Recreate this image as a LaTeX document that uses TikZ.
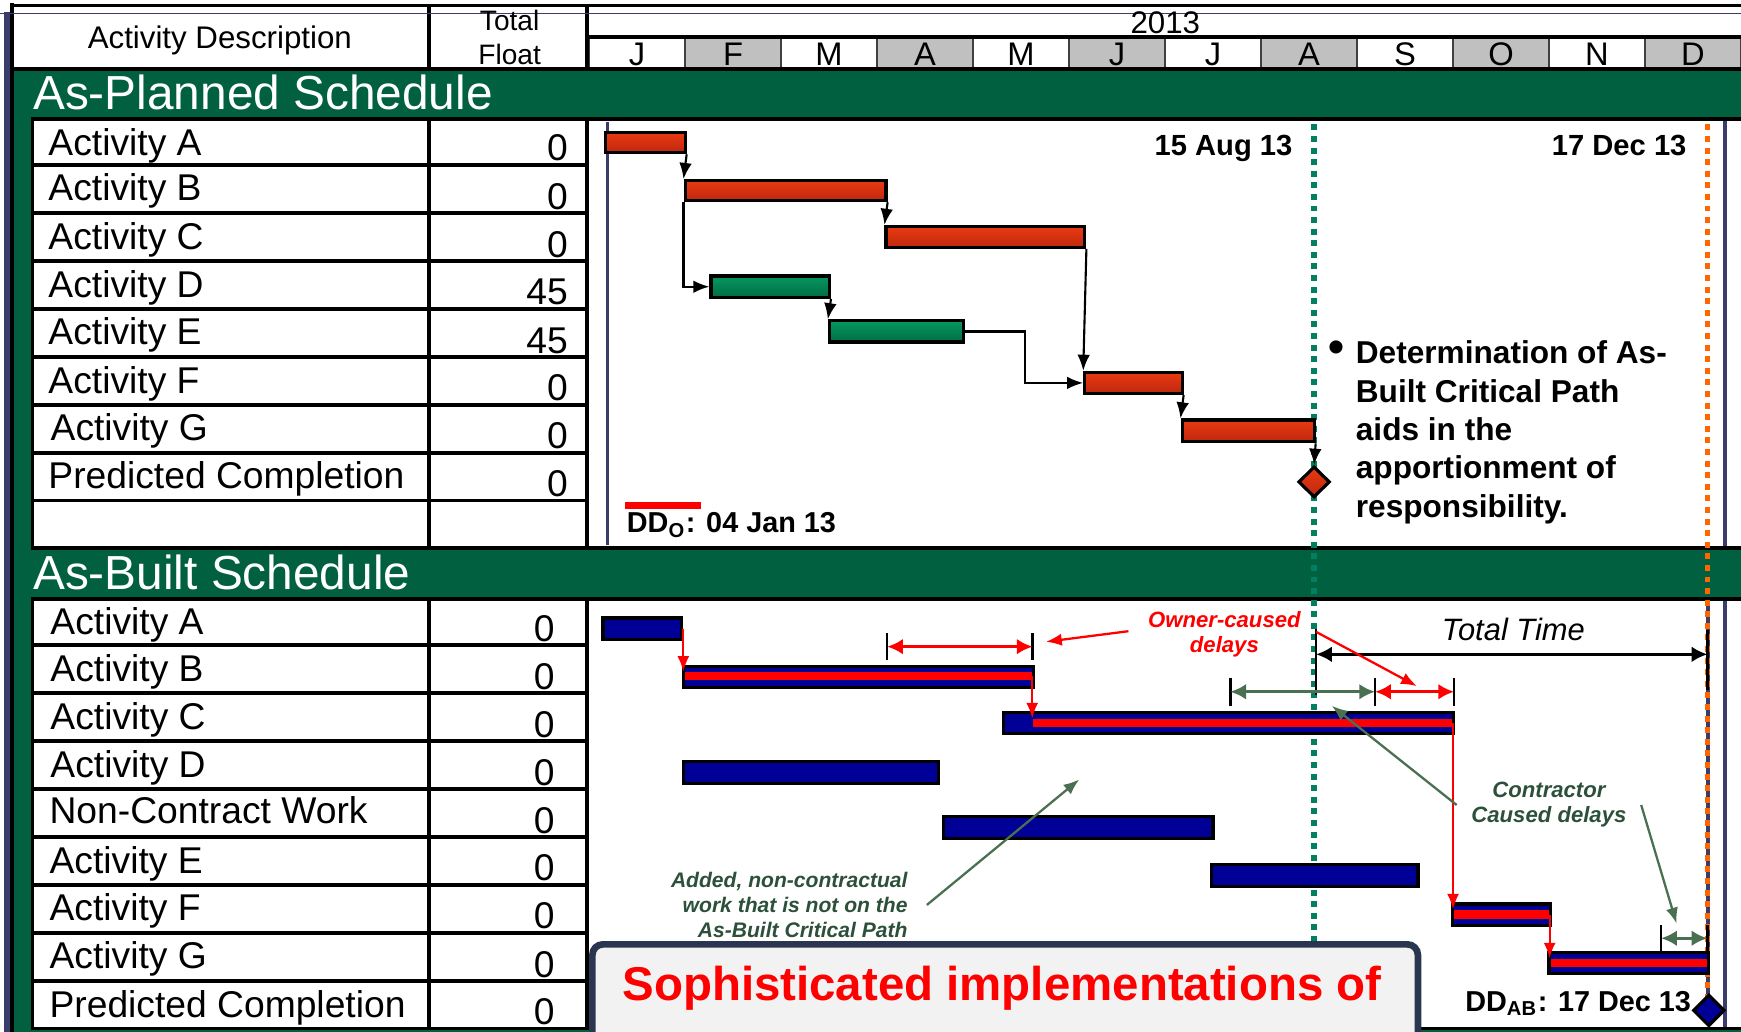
\documentclass[tikz,border=0pt]{standalone}
\usepackage{fontspec}
\setmainfont{Liberation Sans}
\usetikzlibrary{arrows.meta,fit,shapes.geometric}

\definecolor{bandgreen}{RGB}{0,96,64}
\definecolor{edgenavy}{RGB}{58,60,105}
\definecolor{monthgray}{RGB}{192,192,192}
\definecolor{planred}{RGB}{234,58,18}
\definecolor{planredd}{RGB}{190,40,14}
\definecolor{plangreen}{RGB}{6,150,96}
\definecolor{plangreend}{RGB}{0,110,68}
\definecolor{builtnavy}{RGB}{0,0,150}
\definecolor{dategreen}{RGB}{0,128,96}
\definecolor{dateorange}{RGB}{255,102,0}
\definecolor{contrgreen}{RGB}{74,112,82}
\definecolor{notegreen}{RGB}{45,80,58}
\definecolor{boxgray}{RGB}{242,242,242}
\definecolor{boxedge}{RGB}{42,54,80}

\begin{document}
\begin{tikzpicture}[x=0.011103cm,y=-0.011103cm]
	\tikzstyle{cell}=[draw=black,line width=1.1pt,fill=white]
	\tikzstyle{hdrline}=[draw=black,line width=1.1pt]
	\tikzstyle{monthcell}=[draw=black!75,line width=0.5pt]
	\tikzstyle{hdrtext}=[anchor=base,inner sep=0pt,font=\fontsize{8.9}{10}\selectfont]
	\tikzstyle{mlabel}=[anchor=base,inner sep=0pt,font=\fontsize{9.3}{10}\selectfont]
	\tikzstyle{bandtitle}=[anchor=base west,inner sep=0pt,white,font=\fontsize{13.6}{15}\selectfont]
	\tikzstyle{rowtext}=[anchor=base west,inner sep=0pt,font=\fontsize{10.6}{12}\selectfont]
	\tikzstyle{rownum}=[anchor=base east,inner sep=0pt,font=\fontsize{10.6}{12}\selectfont]
	\tikzstyle{pbar}=[draw,line width=0.9pt,inner sep=0pt,top color=planred,bottom color=planredd]
	\tikzstyle{gbar}=[draw,line width=0.9pt,inner sep=0pt,top color=plangreen,bottom color=plangreend]
	\tikzstyle{bbar}=[draw,line width=0.9pt,inner sep=0pt,fill=builtnavy]
	\tikzstyle{stripe}=[fill=red,inner sep=0pt]
	\tikzstyle{link}=[-{Latex[length=4.6pt,width=3.6pt]},line width=0.6pt]
	\tikzstyle{critlink}=[red,-{Latex[length=4.4pt,width=3.4pt]},line width=0.65pt]
	\tikzstyle{datemark}=[line width=1.5pt,dash pattern=on 1.7pt off 1.6pt]
	\tikzstyle{datetext}=[anchor=base east,inner sep=0pt,font=\fontsize{8.3}{10}\selectfont\bfseries]
	\tikzstyle{endtick}=[line width=0.7pt]
	\tikzstyle{delayspan}=[line width=0.95pt,{Latex[length=4.5pt,width=4.5pt]}-{Latex[length=4.5pt,width=4.5pt]}]
	\tikzstyle{pointer}=[line width=0.65pt,-{Latex[length=4.5pt,width=3.5pt]}]
	\tikzstyle{remark}=[inner sep=0pt,font=\fontsize{6.3}{7.1}\selectfont\bfseries\itshape]

	\useasboundingbox (0,0) rectangle (1568,929);
	\clip (0,0) rectangle (1568,929);

	% frame and green background
	\fill[edgenavy] (3.4,10.5) rectangle (8.6,929);
	\fill[black] (8.6,3) rectangle (13,929);
	\fill[bandgreen] (13,62) rectangle (1568,929);

	% header
	\fill[white] (11,5) rectangle (1568,62);
	\draw[monthcell,fill=white] (530.5,33.5) rectangle (617,62);
	\draw[monthcell,fill=monthgray] (617,33.5) rectangle (703.4,62);
	\draw[monthcell,fill=white] (703.4,33.5) rectangle (789.9,62);
	\draw[monthcell,fill=monthgray] (789.9,33.5) rectangle (876.3,62);
	\draw[monthcell,fill=white] (876.3,33.5) rectangle (962.8,62);
	\draw[monthcell,fill=monthgray] (962.8,33.5) rectangle (1049.2,62);
	\draw[monthcell,fill=white] (1049.2,33.5) rectangle (1135.7,62);
	\draw[monthcell,fill=monthgray] (1135.7,33.5) rectangle (1222.1,62);
	\draw[monthcell,fill=white] (1222.1,33.5) rectangle (1308.6,62);
	\draw[monthcell,fill=monthgray] (1308.6,33.5) rectangle (1395,62);
	\draw[monthcell,fill=white] (1395,33.5) rectangle (1481.5,62);
	\draw[monthcell,fill=monthgray] (1481.5,33.5) rectangle (1567.9,62);
	\draw[hdrline] (11,5) rectangle (1575,62);
	\draw[hdrline] (386,5) -- (386,62);
	\draw[hdrline] (529,5) -- (529,62);
	\draw[hdrline] (529,33.5) -- (1575,33.5);
	\draw[edgenavy,line width=0.3pt] (0,12) -- (1568,12);

	\node[hdrtext] (hdesc) at (198,43.5) {Activity Description};
	\node[hdrtext,font=\fontsize{8}{10}\selectfont] (htotal) at (459,27.5) {Total};
	\node[hdrtext,font=\fontsize{8}{10}\selectfont] (hfloat) at (459,58.5) {Float};
	\node[hdrtext] (hyear) at (1049.5,30) {2013};
	\node[mlabel] (m1) at (573.7,59) {J};
	\node[mlabel] (m2) at (660.2,59) {F};
	\node[mlabel] (m3) at (746.6,59) {M};
	\node[mlabel] (m4) at (833.1,59) {A};
	\node[mlabel] (m5) at (919.5,59) {M};
	\node[mlabel] (m6) at (1006,59) {J};
	\node[mlabel] (m7) at (1092.4,59) {J};
	\node[mlabel] (m8) at (1178.9,59) {A};
	\node[mlabel] (m9) at (1265.3,59) {S};
	\node[mlabel] (m10) at (1351.8,59) {O};
	\node[mlabel] (m11) at (1438.2,59) {N};
	\node[mlabel] (m12) at (1524.7,59) {D};

	% band titles
	\node[bandtitle] (tplan) at (29.3,99) {As-Planned Schedule};
	\node[bandtitle] (tbuilt) at (29.3,531) {As-Built Schedule};

	% as-planned table
	\draw[cell] (29.3,107.5) rectangle (386,148.3) (386,107.5) rectangle (529,148.3);
	\node[rowtext] (pa1) at (43,140) {Activity A}; \node[rownum] (pf1) at (512,144.8) {0};
	\draw[cell] (29.3,148.3) rectangle (386,191.8) (386,148.3) rectangle (529,191.8);
	\node[rowtext] (pa2) at (43,180.8) {Activity B}; \node[rownum] (pf2) at (512,188.3) {0};
	\draw[cell] (29.3,191.8) rectangle (386,235.4) (386,191.8) rectangle (529,235.4);
	\node[rowtext] (pa3) at (43,224.3) {Activity C}; \node[rownum] (pf3) at (512,231.9) {0};
	\draw[cell] (29.3,235.4) rectangle (386,278.1) (386,235.4) rectangle (529,278.1);
	\node[rowtext] (pa4) at (43,267.9) {Activity D}; \node[rownum] (pf4) at (512,274.6) {45};
	\draw[cell] (29.3,278.1) rectangle (386,321.5) (386,278.1) rectangle (529,321.5);
	\node[rowtext] (pa5) at (43,310.6) {Activity E}; \node[rownum] (pf5) at (512,318) {45};
	\draw[cell] (29.3,321.5) rectangle (386,364.5) (386,321.5) rectangle (529,364.5);
	\node[rowtext] (pa6) at (43,354) {Activity F}; \node[rownum] (pf6) at (512,361) {0};
	\draw[cell] (29.3,364.5) rectangle (386,407.8) (386,364.5) rectangle (529,407.8);
	\node[rowtext] (pa7) at (45,397) {Activity G}; \node[rownum] (pf7) at (512,404.3) {0};
	\draw[cell] (29.3,407.8) rectangle (386,450.8) (386,407.8) rectangle (529,450.8);
	\node[rowtext] (pa8) at (43,440.3) {Predicted Completion}; \node[rownum] (pf8) at (512,447.3) {0};
	\draw[cell] (29.3,450.8) rectangle (386,493.6) (386,450.8) rectangle (529,493.6);

	% as-built table
	\draw[cell] (29.3,539.2) rectangle (386,581) (386,539.2) rectangle (529,581);
	\node[rowtext] (ba1) at (44.8,571.7) {Activity A}; \node[rownum] (bf1) at (500,577.5) {0};
	\draw[cell] (29.3,581) rectangle (386,624.2) (386,581) rectangle (529,624.2);
	\node[rowtext] (ba2) at (44.8,613.5) {Activity B}; \node[rownum] (bf2) at (500,620.7) {0};
	\draw[cell] (29.3,624.2) rectangle (386,667.5) (386,624.2) rectangle (529,667.5);
	\node[rowtext] (ba3) at (44.8,656.7) {Activity C}; \node[rownum] (bf3) at (500,664) {0};
	\draw[cell] (29.3,667.5) rectangle (386,710.8) (386,667.5) rectangle (529,710.8);
	\node[rowtext] (ba4) at (44.8,700) {Activity D}; \node[rownum] (bf4) at (500,707.3) {0};
	\draw[cell] (29.3,710.8) rectangle (386,754) (386,710.8) rectangle (529,754);
	\node[rowtext] (ba5) at (44,741.5) {Non-Contract Work}; \node[rownum] (bf5) at (500,750.5) {0};
	\draw[cell] (29.3,754) rectangle (386,796.8) (386,754) rectangle (529,796.8);
	\node[rowtext] (ba6) at (44,786.5) {Activity E}; \node[rownum] (bf6) at (500,793.3) {0};
	\draw[cell] (29.3,796.8) rectangle (386,840.1) (386,796.8) rectangle (529,840.1);
	\node[rowtext] (ba7) at (44,829.3) {Activity F}; \node[rownum] (bf7) at (500,836.6) {0};
	\draw[cell] (29.3,840.1) rectangle (386,883.8) (386,840.1) rectangle (529,883.8);
	\node[rowtext] (ba8) at (44,872.6) {Activity G}; \node[rownum] (bf8) at (500,880.3) {0};
	\draw[cell] (29.3,883.8) rectangle (386,926.3) (386,883.8) rectangle (529,926.3);
	\node[rowtext] (ba9) at (44,916.3) {Predicted Completion}; \node[rownum] (bf9) at (500,922.6) {0};

	% chart panels
	\draw[cell] (529,107.5) rectangle (1580,493.6);
	\draw[cell] (529,539.2) rectangle (1580,926.3);
	\draw[edgenavy,line width=0.9pt] (547,110) -- (547,491);
	\draw[edgenavy,line width=1.3pt] (1553.6,109) -- (1553.6,492) (1553.6,541) -- (1553.6,925);
	\draw[edgenavy,line width=1.2pt] (1538,541) -- (1538,905);
	\draw[datemark,dategreen] (1183.5,112) -- (1183.5,852);
	\draw[datemark,dateorange] (1538,112) -- (1538,905);

	\node[datetext] (d15) at (1164.6,139.6) {15 Aug 13};
	\node[datetext] (d17) at (1519.5,139.6) {17 Dec 13};

	% as-planned bars
	\node[pbar,fit={(545,119.5) (617,137.5)}] (pA) {};
	\node[pbar,fit={(617,162.7) (798,180.7)}] (pB) {};
	\node[pbar,fit={(798,204) (977,222.8)}] (pC) {};
	\node[gbar,fit={(640.4,248.6) (747,267.8)}] (pD) {};
	\node[gbar,fit={(747,289) (868,308)}] (pE) {};
	\node[pbar,fit={(977,335.4) (1064.6,354.3)}] (pF) {};
	\node[pbar,fit={(1064.6,378.3) (1183.5,397.8)}] (pG) {};
	\node[draw,line width=0.9pt,diamond,inner sep=0pt,minimum width=9pt,minimum height=8.8pt,top color=planred,bottom color=planredd] (pEnd) at (1183.5,434) {};

	\draw[link] (pA.south east) -- (pB.north west);
	\draw[link] (pB.south west) |- (pD.west);
	\draw[link] (pB.south east) -- (pC.north west);
	\draw[link] (pD.south east) -- (pE.north west);
	\draw[link] (pE.east) -- ++(54,0) |- (pF.west);
	\draw[link] (pC.south east) -- (pF.north west);
	\draw[link] (pF.south east) -- (pG.north west);
	\draw[link] (pG.south east) -- (pEnd.north);

	\fill[red] (563,452.4) rectangle (631,458.7);
	\node[anchor=base west,inner sep=0pt,font=\fontsize{8.2}{10}\selectfont\bfseries] (ddo) at (564,480) {DD\textsubscript{O}: 04 Jan 13};

	\node[font=\fontsize{13}{13}\selectfont\bfseries,inner sep=0pt] (bul) at (1203.5,317) {\textbullet};
	\node[anchor=north west,inner sep=0pt,align=left,font=\fontsize{9}{10.9}\selectfont\bfseries] (note) at (1220.5,306.5) {Determination of As-\\Built Critical Path\\aids in the\\apportionment of\\responsibility.};

	% as-built bars
	\node[bbar,fit={(543,556.6) (614,575.6)}] (bA) {};
	\node[bbar,fit={(615.4,600.4) (930.8,619.4)}] (bB) {};
	\node[bbar,fit={(904,641.5) (1309,660.5)}] (bC) {};
	\node[bbar,fit={(615.4,686) (845.5,705.5)}] (bD) {};
	\node[bbar,fit={(850,735.5) (1092.5,755)}] (bN) {};
	\node[bbar,fit={(1091,778.5) (1277,798.6)}] (bE) {};
	\node[bbar,fit={(1308,814.2) (1396.6,833.7)}] (bF) {};
	\node[bbar,fit={(1395,857.7) (1539,876.6)}] (bG) {};
	\node[stripe,fit={(617,605.5) (929,612.5)}] (sB) {};
	\node[stripe,fit={(930,647.6) (1308,654.5)}] (sC) {};
	\node[stripe,fit={(1309.5,819.6) (1395,827.7)}] (sF) {};
	\node[stripe,fit={(1396.5,863.7) (1537.5,871.2)}] (sG) {};
	\node[draw,line width=0.9pt,diamond,inner sep=0pt,minimum width=9pt,minimum height=9pt,fill=builtnavy] (bEnd) at (1539,910) {};

	\draw[critlink] (bA.east) -- (bA.east |- sB.north);
	\draw[critlink] (sB.east) -- (sB.east |- sC.north);
	\draw[critlink] (sC.east) -- (sC.east |- sF.north);
	\draw[critlink] (sF.east) -- (sF.east |- sG.north);

	% delay spans
	\coordinate (ow1) at (799,582.4);
	\coordinate (ow2) at (930,582.4);
	\coordinate (cs1) at (1108,623);
	\coordinate (cs2) at (1238.4,623);
	\coordinate (ow3) at (1309.6,623);
	\coordinate (tt1) at (1185.3,589.3);
	\coordinate (tt2) at (1537.7,589.3);
	\coordinate (gs1) at (1496,845);
	\coordinate (gs2) at (1537.7,845);

	\draw[endtick] ([yshift=3.8pt]ow1) -- ([yshift=-3.8pt]ow1);
	\draw[endtick] ([yshift=3.8pt]ow2) -- ([yshift=-3.8pt]ow2);
	\draw[endtick] ([yshift=4pt]cs1) -- ([yshift=-4pt]cs1);
	\draw[endtick] ([yshift=4pt]cs2) -- ([yshift=-4pt]cs2);
	\draw[endtick] ([yshift=4pt]ow3) -- ([yshift=-4pt]ow3);
	\draw[endtick] ([yshift=7.1pt]tt1) -- ([yshift=-11.6pt]tt1);
	\draw[endtick] ([yshift=6.9pt]tt2) -- ([yshift=-10.2pt]tt2);
	\draw[endtick] ([yshift=3.8pt]gs1) -- ([yshift=-3.8pt]gs1);
	\draw[endtick] ([yshift=3.8pt]gs2) -- ([yshift=-3.8pt]gs2);

	\draw[delayspan,red] (ow1) -- (ow2);
	\draw[delayspan,contrgreen] (cs1) -- (cs2);
	\draw[delayspan,red] (cs2) -- (ow3);
	\draw[delayspan,line width=0.75pt] (tt1) -- (tt2);
	\draw[delayspan,contrgreen] (gs1) -- (gs2);

	\node[anchor=base,inner sep=0pt,font=\fontsize{8.8}{10}\selectfont\itshape] (ttime) at (1363,576.4) {Total Time};

	\node[remark,red,align=center] (owner) at (1102.7,571) {Owner-caused\\delays};
	\draw[pointer,red] ([xshift=-5.4pt,yshift=0.8pt]owner.west) -- ([xshift=3.8pt,yshift=1.4pt]ow2);
	\draw[pointer,red] ([yshift=6.4pt]tt1) -- ([xshift=11.9pt,yshift=1.6pt]cs2);

	\node[remark,notegreen,align=center] (contr) at (1395,725) {Contractor\\Caused delays};
	\draw[pointer,contrgreen] ([xshift=-4pt]contr.west) -- ([xshift=-12.3pt,yshift=-4pt]cs2);
	\draw[pointer,contrgreen] ([xshift=4pt]contr.east) -- ([xshift=4.4pt,yshift=4.2pt]gs1);

	\node[remark,notegreen,align=right,anchor=east,font=\fontsize{6}{7.1}\selectfont\bfseries\itshape] (added) at (818,815) {Added, non-contractual\\work that is not on the\\As-Built Critical Path};
	\coordinate (addtip) at (972,702);
	\draw[pointer,contrgreen] ([xshift=5.3pt]added.east) -- (addtip);

	% callout box
	\draw[line width=1.9pt,draw=boxedge,fill=boxgray,rounded corners=3pt] (533.5,850.5) rectangle (1277,990);
	\node[anchor=base west,inner sep=0pt,red,font=\fontsize{13.5}{15}\selectfont\bfseries] (soph) at (560,901) {Sophisticated implementations of};

	\node[anchor=base east,inner sep=0pt,font=\fontsize{8.2}{10}\selectfont\bfseries] (ddab) at (1523.6,911) {DD\textsubscript{AB}: 17 Dec 13};
\end{tikzpicture}
\end{document}
